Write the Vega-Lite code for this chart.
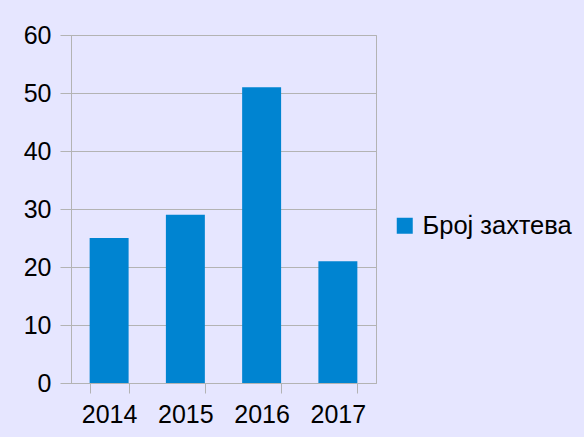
{
  "$schema": "https://vega.github.io/schema/vega-lite/v6.json",
  "autosize": {"type": "none"},
  "padding": {"left": 71, "top": 35, "right": 208, "bottom": 54},
  "width": 305,
  "height": 348,
  "background": "#e6e6ff",
  "data": {"values": [
    {"year": "2014", "value": 25, "series": "Број захтева"},
    {"year": "2015", "value": 29, "series": "Број захтева"},
    {"year": "2016", "value": 51, "series": "Број захтева"},
    {"year": "2017", "value": 21, "series": "Број захтева"}
  ]},
  "mark": {"type": "bar"},
  "encoding": {
    "x": {
      "field": "year", "type": "nominal", "title": null,
      "scale": {"paddingInner": 0.489, "paddingOuter": 0.2445},
      "axis": {"labelAngle": 0, "tickBand": "extent", "grid": false, "tickSize": 10, "labelPadding": 9}
    },
    "y": {
      "field": "value", "type": "quantitative", "title": null,
      "scale": {"domain": [0, 60], "nice": false},
      "axis": {"values": [0, 10, 20, 30, 40, 50, 60], "tickSize": 11, "labelPadding": 9, "grid": true}
    },
    "color": {
      "field": "series", "type": "nominal", "title": null,
      "scale": {"range": ["#0084d1"]},
      "legend": {"orient": "none", "legendX": 321, "legendY": 178, "symbolType": "square", "symbolSize": 256, "labelFontSize": 25.5, "labelOffset": 5, "labelFont": "Liberation Sans", "labelColor": "#000000", "symbolStrokeWidth": 0}
    }
  },
  "config": {
    "view": {"stroke": "#b3b3b3", "strokeWidth": 1},
    "axis": {
      "labelFont": "Liberation Sans", "labelFontSize": 25, "labelColor": "#000000",
      "domainColor": "#b3b3b3", "tickColor": "#b3b3b3", "gridColor": "#b3b3b3",
      "domainWidth": 1, "tickWidth": 1, "gridWidth": 1
    }
  }
}
